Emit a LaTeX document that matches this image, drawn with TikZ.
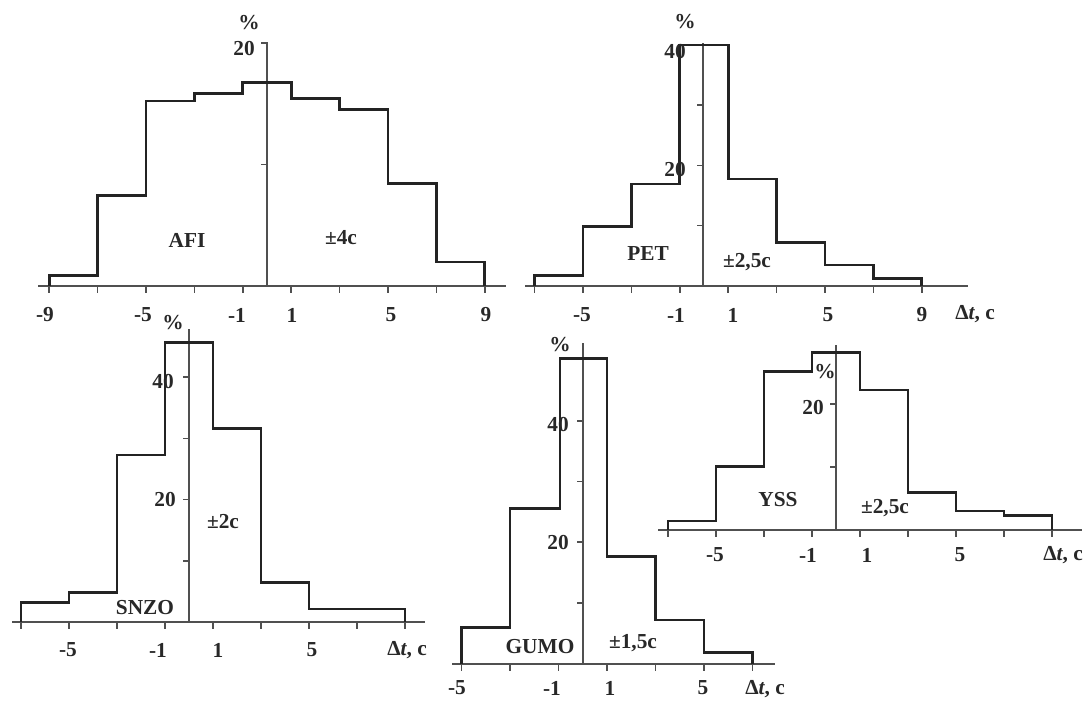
\documentclass[tikz,border=0pt]{standalone}
\usepackage{fontspec}
\setmainfont{Liberation Serif}
\definecolor{axc}{RGB}{80,80,80}
\definecolor{hc}{RGB}{35,35,35}
\definecolor{tc}{RGB}{40,40,40}
\begin{document}
\begin{tikzpicture}[x=0.75pt,y=-0.75pt,
  axisline/.style={line width=1.5pt, draw=axc},
  tickline/.style={line width=1.2pt, draw=axc},
  hist/.style={line width=2.2pt, draw=hc, line join=miter},
  lbl/.style={font=\fontsize{16}{18}\selectfont\bfseries, text=tc, inner sep=0pt},
  dtl/.style={lbl}]
\useasboundingbox (0,0) rectangle (1089,700);
\fill[white] (0,0) rectangle (1089,700);

% ===== AFI =====
\draw[axisline] (38,285.7) -- (506,285.7);
\draw[axisline] (267,285.7) -- (267,43) -- (261,43);
\draw[tickline] (267,164.3) -- (261,164.3);
\foreach \x in {49.2,97.6,146,194.4,242.8,291.2,339.6,388,436.4,484.8}
  \draw[tickline] (\x,285) -- (\x,293);
\draw[hist] (49.2,285.7) -- (49.2,275.3) -- (97.6,275.3) -- (97.6,195.7) -- (146,195.7) -- (146,101) -- (194.4,101) -- (194.4,93.3) -- (242.8,93.3) -- (242.8,82.7) -- (291.2,82.7) -- (291.2,98.7) -- (339.6,98.7) -- (339.6,109.3) -- (388,109.3) -- (388,183.3) -- (436.4,183.3) -- (436.4,262) -- (484.8,262) -- (484.8,285.7);
\node[lbl] (a1) at (45,315) {-9};
\node[lbl] (a2) at (143,315) {-5};
\node[lbl] (a3) at (237,315) {-1};
\node[lbl] (a4) at (292,315) {1};
\node[lbl] (a5) at (391,315) {5};
\node[lbl] (a6) at (486,315) {9};
\node[lbl] (apc) at (249,23) {\%};
\node[lbl] (a20) at (244,49) {20};
\node[lbl] (aname) at (187,240) {AFI};
\node[lbl] (aerr) at (341,238) {±4c};

% ===== PET =====
\draw[axisline] (525,285.7) -- (968,285.7);
\draw[axisline] (703,285.7) -- (703,43);
\foreach \y in {45,105.2,165.5,225.6}
  \draw[tickline] (703,\y) -- (697,\y);
\foreach \x in {534.6,583,631.4,679.8,728.2,776.6,825,873.4,921.8}
  \draw[tickline] (\x,285) -- (\x,293);
\draw[hist] (534.6,285.7) -- (534.6,275.7) -- (583,275.7) -- (583,226.7) -- (631.4,226.7) -- (631.4,184) -- (679.8,184) -- (679.8,45) -- (728.2,45) -- (728.2,179) -- (776.6,179) -- (776.6,242.3) -- (825,242.3) -- (825,265) -- (873.4,265) -- (873.4,278.3) -- (921.8,278.3) -- (921.8,285.7);
\node[lbl] (p1) at (582,315) {-5};
\node[lbl] (p2) at (676,315) {-1};
\node[lbl] (p3) at (733,315) {1};
\node[lbl] (p4) at (828,315) {5};
\node[lbl] (p5) at (922,315) {9};
\node[dtl] (pdt) at (975,314) {Δ\textit{t}, c};
\node[lbl] (ppc) at (685,22) {\%};
\node[lbl] (p40) at (675,52) {40};
\node[lbl] (p20) at (675,170) {20};
\node[lbl] (pname) at (648,254) {PET};
\node[lbl] (perr) at (747,262) {±2,5c};

% ===== SNZO =====
\draw[axisline] (12,622) -- (425,622);
\draw[axisline] (189,622) -- (189,329);
\foreach \y in {560.8,499.6,438.4,377.2}
  \draw[tickline] (189,\y) -- (183,\y);
\foreach \x in {21,69,117,165,213,261,309,357,405}
  \draw[tickline] (\x,621) -- (\x,629);
\draw[hist] (21,622) -- (21,602.3) -- (69,602.3) -- (69,592.3) -- (117,592.3) -- (117,455) -- (165,455) -- (165,342.3) -- (213,342.3) -- (213,428.3) -- (261,428.3) -- (261,582.7) -- (309,582.7) -- (309,609) -- (405,609) -- (405,622);
\node[lbl] (s1) at (68,650) {-5};
\node[lbl] (s2) at (158,650) {-1};
\node[lbl] (s3) at (218,650) {1};
\node[lbl] (s4) at (312,650) {5};
\node[dtl] (sdt) at (407,650) {Δ\textit{t}, c};
\node[lbl] (spc) at (173,323) {\%};
\node[lbl] (s40) at (163,382) {40};
\node[lbl] (s20) at (165,500) {20};
\node[lbl] (serr) at (223,522) {±2c};
\node[lbl] (sname) at (145,608) {SNZO};

% ===== GUMO =====
\draw[axisline] (452,663.8) -- (775,663.8);
\draw[axisline] (582.7,663.8) -- (582.7,343);
\foreach \y in {420.7,481.4,542.1,602.9}
  \draw[tickline] (582.7,\y) -- (576.7,\y);
\foreach \x in {461.5,510,558.5,607,655.5,704,752.5}
  \draw[tickline] (\x,663) -- (\x,671);
\draw[hist] (461.5,663.8) -- (461.5,627.3) -- (510,627.3) -- (510,508.3) -- (560,508.3) -- (560,358.3) -- (607,358.3) -- (607,556.7) -- (655.5,556.7) -- (655.5,620) -- (704,620) -- (704,652.7) -- (752.5,652.7) -- (752.5,663.8);
\node[lbl] (g1) at (457,688) {-5};
\node[lbl] (g2) at (552,688) {-1};
\node[lbl] (g3) at (610,688) {1};
\node[lbl] (g4) at (703,688) {5};
\node[dtl] (gdt) at (765,689) {Δ\textit{t}, c};
\node[lbl] (gpc) at (560,345) {\%};
\node[lbl] (g40) at (558,425) {40};
\node[lbl] (g20) at (558,543) {20};
\node[lbl] (gname) at (540,647) {GUMO};
\node[lbl] (gerr) at (633,643) {±1,5c};

% ===== YSS =====
\draw[axisline] (658,529.5) -- (1082,529.5);
\draw[axisline] (836,529.5) -- (836,345);
\foreach \y in {466.8,404}
  \draw[tickline] (836,\y) -- (830,\y);
\foreach \x in {668,716,764,812,860,908,956,1004,1052}
  \draw[tickline] (\x,529) -- (\x,537);
\draw[hist] (668,529.5) -- (668,521) -- (716,521) -- (716,466.7) -- (764,466.7) -- (764,371.7) -- (812,371.7) -- (812,352.3) -- (860,352.3) -- (860,390) -- (908,390) -- (908,492.3) -- (956,492.3) -- (956,511) -- (1004,511) -- (1004,515.7) -- (1052,515.7) -- (1052,529.5);
\node[lbl] (y1) at (715,555) {-5};
\node[lbl] (y2) at (808,555) {-1};
\node[lbl] (y3) at (867,555) {1};
\node[lbl] (y4) at (960,555) {5};
\node[dtl] (ydt) at (1063,555) {Δ\textit{t}, c};
\node[lbl] (ypc) at (825,372) {\%};
\node[lbl] (y20) at (813,408) {20};
\node[lbl] (yname) at (778,500) {YSS};
\node[lbl] (yerr) at (885,508) {±2,5c};
\end{tikzpicture}
\end{document}
